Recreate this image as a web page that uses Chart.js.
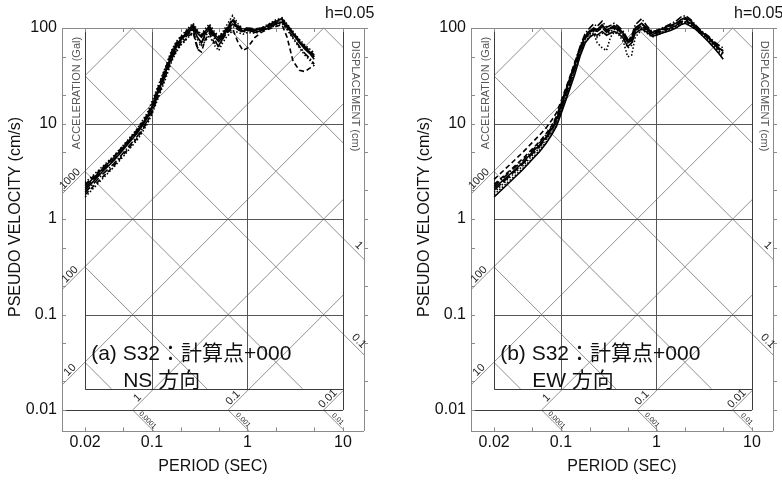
<!DOCTYPE html>
<html>
<head>
<meta charset="utf-8">
<script src="https://cdn.jsdelivr.net/npm/chart.js@4"></script>
<style>
  body { margin: 0; background: #fff; width: 782px; height: 483px; overflow: hidden; position: relative; }
  canvas { position: absolute; top: 0; }
</style>
</head>
<body>
<canvas id="ns" width="391" height="483" style="left:0"></canvas>
<canvas id="ew" width="373" height="483" style="left:409px"></canvas>
<script>
const periods = [0.02, 0.03, 0.04, 0.05, 0.06, 0.07, 0.08, 0.09, 0.1, 0.12, 0.14, 0.16, 0.18,
  0.2, 0.22, 0.24, 0.27, 0.3, 0.33, 0.36, 0.4, 0.45, 0.5, 0.55, 0.6, 0.7, 0.8, 0.9,
  1.0, 1.2, 1.4, 1.6, 1.8, 2.0, 2.3, 2.6, 3.0, 3.5, 4.0, 4.5, 5.0];

// pseudo velocity (cm/s), NS direction
const nsSeries = [
  [2.2, 3.3, 4.4, 5.6, 7.0, 8.4, 10, 12, 15, 24, 36, 52, 66, 76, 84, 95, 108, 88, 80, 92, 105, 85, 78, 84, 96, 120, 100, 92, 98, 95, 98, 104, 110, 118, 125, 105, 88, 72, 62, 56, 50],
  [1.8, 2.7, 3.6, 4.7, 5.8, 7.0, 8.6, 10.5, 13, 21, 32, 46, 58, 68, 74, 82, 90, 60, 56, 75, 88, 70, 66, 76, 88, 98, 70, 58, 62, 80, 90, 96, 100, 104, 108, 80, 45, 36, 35, 38, 41],
  [2.4, 3.5, 4.6, 5.9, 7.3, 8.8, 10.8, 13, 17, 27, 40, 58, 72, 82, 90, 100, 112, 95, 85, 98, 110, 92, 82, 90, 105, 135, 110, 98, 100, 96, 100, 108, 115, 122, 128, 110, 92, 76, 66, 60, 55],
  [1.9, 2.9, 3.8, 4.9, 6.1, 7.3, 8.9, 10.8, 13.5, 22, 33, 47, 60, 70, 78, 86, 98, 62, 70, 82, 92, 78, 62, 78, 88, 104, 96, 90, 94, 92, 96, 100, 106, 112, 118, 98, 80, 64, 54, 48, 42],
  [2.0, 3.1, 4.1, 5.3, 6.6, 7.9, 9.6, 11.5, 14.5, 23, 35, 50, 63, 74, 82, 90, 102, 80, 70, 86, 98, 82, 72, 80, 92, 110, 100, 92, 96, 90, 94, 98, 104, 110, 115, 102, 86, 70, 60, 54, 47],
  [2.1, 3.2, 4.2, 5.4, 6.8, 8.1, 9.8, 11.8, 15, 25, 37, 54, 68, 78, 85, 92, 96, 90, 82, 88, 94, 84, 76, 82, 94, 112, 104, 96, 100, 98, 100, 106, 112, 120, 124, 108, 90, 74, 64, 58, 52],
  [1.7, 2.6, 3.5, 4.5, 5.6, 6.7, 8.2, 10, 12.5, 20, 30, 44, 56, 66, 72, 80, 88, 76, 66, 72, 84, 66, 58, 70, 80, 94, 90, 86, 90, 88, 92, 98, 102, 108, 112, 96, 78, 62, 52, 46, 40],
  [2.3, 3.4, 4.5, 5.8, 7.1, 8.6, 10.4, 12.5, 16, 26, 39, 56, 70, 80, 88, 98, 105, 92, 84, 94, 100, 88, 80, 88, 98, 125, 106, 94, 98, 94, 98, 102, 108, 114, 120, 104, 88, 72, 62, 56, 50]
];

// pseudo velocity (cm/s), EW direction
const ewSeries = [
  [2.1, 3.0, 3.9, 5.0, 6.0, 7.2, 8.8, 11, 15, 26, 41, 62, 82, 92, 100, 96, 108, 95, 100, 106, 100, 88, 72, 78, 100, 112, 100, 90, 92, 100, 106, 112, 122, 128, 118, 104, 90, 80, 70, 62, 57],
  [2.6, 3.8, 5.0, 6.3, 7.6, 9.0, 10.8, 13, 17, 28, 44, 64, 84, 94, 98, 94, 104, 92, 96, 102, 96, 84, 70, 74, 94, 104, 94, 86, 88, 96, 100, 106, 114, 118, 110, 100, 88, 78, 68, 60, 55],
  [1.8, 2.6, 3.4, 4.3, 5.3, 6.4, 7.8, 9.6, 13, 22, 35, 54, 72, 82, 88, 70, 62, 58, 80, 90, 86, 72, 50, 52, 80, 96, 88, 80, 84, 90, 96, 104, 110, 114, 104, 96, 84, 74, 64, 56, 50],
  [2.2, 3.2, 4.1, 5.2, 6.3, 7.6, 9.2, 11.5, 15.5, 27, 43, 66, 88, 100, 110, 104, 118, 102, 106, 112, 104, 92, 76, 82, 108, 125, 104, 92, 94, 102, 110, 118, 130, 135, 122, 106, 92, 82, 72, 66, 62],
  [1.7, 2.5, 3.3, 4.2, 5.1, 6.2, 7.6, 9.4, 12.5, 21, 33, 52, 70, 80, 86, 84, 92, 84, 88, 92, 88, 78, 64, 70, 88, 98, 90, 82, 84, 90, 94, 100, 108, 112, 104, 96, 84, 72, 62, 54, 47],
  [2.0, 2.9, 3.8, 4.8, 5.8, 7.0, 8.5, 10.5, 14, 24, 38, 58, 78, 88, 94, 92, 100, 90, 95, 100, 95, 85, 70, 75, 95, 106, 96, 86, 88, 94, 100, 106, 116, 120, 112, 100, 88, 78, 68, 60, 54],
  [1.9, 2.8, 3.6, 4.6, 5.6, 6.8, 8.2, 10.2, 13.5, 23, 37, 56, 76, 86, 92, 80, 88, 86, 92, 98, 92, 80, 62, 66, 90, 100, 92, 84, 86, 92, 98, 104, 112, 116, 108, 98, 86, 76, 66, 58, 52],
  [2.3, 3.3, 4.3, 5.4, 6.5, 7.8, 9.5, 12, 16, 27, 42, 62, 80, 90, 96, 96, 104, 94, 98, 104, 98, 88, 74, 80, 100, 110, 98, 88, 90, 98, 104, 110, 120, 124, 114, 102, 90, 80, 70, 62, 58]
];

const dashStyles = [[], [5, 3], [1.5, 2], [7, 2, 1.5, 2], [], [9, 3], [1.5, 2], [5, 3]];

const xTickLabels = ['0.02', '0.1', '1', '10'];
const yTickLabels = ['0.01', '0.1', '1', '10', '100'];
const xTicks = [0.02, 0.05, 0.1, 0.2, 0.5, 1, 2, 5, 10];
const yTicks = [0.01, 0.02, 0.05, 0.1, 0.2, 0.5, 1, 2, 5, 10, 20, 50, 100];
const accelLines = [0.01, 0.1, 1, 10, 100, 1000, 10000];
const dispLines = [0.0001, 0.001, 0.01, 0.1, 1, 10, 100];
const accelLeftLabels = ['1000', '100', '10'];
const accelBottomLabels = ['1', '0.1', '0.01'];
const dispRightLabels = ['1', '0.1'];
const dispBottomLabels = ['0.01', '0.001', '0.0001'];

// frame of the tripartite grid (axis units)
const T_MIN = 0.01145, T_MAX = 16.6, V_MIN = 0.00603, V_MAX = 100;
const T_IN0 = 0.02, T_IN1 = 10, V_IN0 = 0.0166, V_LINE = 0.01;
const TWO_PI = 2 * Math.PI;
const LATIN = '"Liberation Sans", Arial, "Noto Sans CJK JP", sans-serif';

function accelSeg(a, t0, t1, v0, v1) {
  const ta = Math.max(t0, v0 * TWO_PI / a), tb = Math.min(t1, v1 * TWO_PI / a);
  return ta < tb ? [[ta, a * ta / TWO_PI], [tb, a * tb / TWO_PI]] : null;
}
function dispSeg(d, t0, t1, v0, v1) {
  const ta = Math.max(t0, TWO_PI * d / v1), tb = Math.min(t1, TWO_PI * d / v0);
  return ta < tb ? [[ta, TWO_PI * d / ta], [tb, TWO_PI * d / tb]] : null;
}

const tripartite = {
  id: 'tripartite',
  beforeDatasetsDraw(chart) {
    const ctx = chart.ctx, xs = chart.scales.x, ys = chart.scales.y;
    const X = v => xs.getPixelForValue(v), Y = v => ys.getPixelForValue(v);
    const R = p => Math.round(p) + 0.5;
    const seg = (s) => {
      if (!s) return;
      ctx.beginPath();
      ctx.moveTo(X(s[0][0]), Y(s[0][1]));
      ctx.lineTo(X(s[1][0]), Y(s[1][1]));
      ctx.stroke();
    };
    const hline = (v, t0, t1) => { ctx.beginPath(); ctx.moveTo(X(t0), R(Y(v))); ctx.lineTo(X(t1), R(Y(v))); ctx.stroke(); };
    const vline = (t, v0, v1) => { ctx.beginPath(); ctx.moveTo(R(X(t)), Y(v0)); ctx.lineTo(R(X(t)), Y(v1)); ctx.stroke(); };

    ctx.save();
    ctx.lineWidth = 1;
    // diagonal acceleration / displacement lines
    ctx.strokeStyle = '#8f8f8f';
    accelLines.forEach(a => {
      const t0 = accelLeftLabels.includes(String(a)) ? T_MIN : T_IN0;
      seg(accelSeg(a, t0, T_IN1, V_LINE, V_MAX));
    });
    dispLines.forEach(d => {
      seg(dispSeg(d, T_IN0, T_IN1, V_IN0, V_MAX));
      if (dispRightLabels.includes(String(d))) seg(dispSeg(d, T_IN1, T_MAX, V_MIN, V_MAX));
      if (dispBottomLabels.includes(String(d))) seg(dispSeg(d, T_IN0, T_IN1, V_MIN, V_LINE));
    });
    // velocity / period grid
    ctx.strokeStyle = '#555';
    [0.1, 1, 10].forEach(v => hline(v, T_IN0, T_IN1));
    [0.1, 1].forEach(t => vline(t, V_IN0, V_MAX));
    ctx.strokeStyle = '#3c3c3c';
    vline(T_IN0, V_IN0, V_MAX);
    vline(T_IN1, V_LINE, V_MAX);
    hline(V_IN0, T_IN0, T_IN1);
    hline(V_LINE, T_MIN, T_IN1);
    // outer axes box with ticks
    ctx.strokeStyle = '#8a8a8a';
    hline(V_MAX, T_MIN, T_MAX);
    hline(V_MIN, T_MIN, T_MAX);
    vline(T_MIN, V_MIN, V_MAX);
    vline(T_MAX, V_MIN, V_MAX);
    xTicks.forEach(t => {
      vline(t, V_MIN, V_MIN * 1.09);
      ctx.beginPath(); ctx.moveTo(R(X(t)), Y(V_MAX)); ctx.lineTo(R(X(t)), Y(V_MAX) + 4); ctx.stroke();
    });
    yTicks.forEach(v => {
      ctx.beginPath(); ctx.moveTo(X(T_MIN), R(Y(v))); ctx.lineTo(X(T_MIN) + 4, R(Y(v))); ctx.stroke();
      ctx.beginPath(); ctx.moveTo(X(T_MAX), R(Y(v))); ctx.lineTo(X(T_MAX) + 4, R(Y(v))); ctx.stroke();
    });
    ctx.restore();
  },
  afterDatasetsDraw(chart, args, opts) {
    const ctx = chart.ctx, xs = chart.scales.x, ys = chart.scales.y, area = chart.chartArea;
    const X = v => xs.getPixelForValue(v), Y = v => ys.getPixelForValue(v);
    const put = (txt, x, y, ang, font, color, align, base) => {
      ctx.save();
      ctx.translate(x, y);
      ctx.rotate(ang);
      ctx.font = font;
      ctx.fillStyle = color;
      ctx.textAlign = align;
      ctx.textBaseline = base;
      ctx.fillText(txt, 0, 0);
      ctx.restore();
    };
    const label = (txt, s, frac, off, ang, size) => {
      if (!s) return;
      const x0 = X(s[0][0]), y0 = Y(s[0][1]), x1 = X(s[1][0]), y1 = Y(s[1][1]);
      const px = x0 + (x1 - x0) * frac, py = y0 + (y1 - y0) * frac;
      ctx.save();
      ctx.translate(px, py);
      ctx.rotate(ang);
      ctx.font = size + 'px ' + LATIN;
      ctx.fillStyle = '#222';
      ctx.textAlign = 'center';
      ctx.textBaseline = 'alphabetic';
      ctx.fillText(txt, 0, -off);
      ctx.restore();
    };

    // diagonal scale labels
    accelLeftLabels.forEach(t => label(t, accelSeg(+t, T_MIN, T_IN0, V_LINE, V_MAX), 0.5, 2, -Math.PI / 4, 11));
    accelBottomLabels.forEach(t => label(t, accelSeg(+t, T_IN0, T_IN1, V_LINE, V_IN0), 0.4, 2, -Math.PI / 4, 11));
    dispRightLabels.forEach(t => label(t, dispSeg(+t, T_IN1, T_MAX, V_MIN, V_MAX), 0.55, 3, Math.PI / 4, 11));
    dispBottomLabels.forEach(t => label(t, dispSeg(+t, T_IN0, T_IN1, V_MIN, V_LINE), 0.6, 1.5, Math.PI / 4, 7));

    put('ACCELERATION (Gal)', (X(T_MIN) + X(T_IN0)) / 2 + 3, 93, -Math.PI / 2, '11px ' + LATIN, '#555', 'center', 'middle');
    put('DISPLACEMENT (cm)', (X(T_IN1) + X(T_MAX)) / 2 + 2, 96, Math.PI / 2, '11px ' + LATIN, '#555', 'center', 'middle');

    // tick labels
    xTickLabels.forEach(t => put(t, X(+t), area.bottom + 4, 0, '16px ' + LATIN, '#111', 'center', 'top'));
    yTickLabels.forEach(t => put(t, area.left - 5, Y(+t), 0, '16px ' + LATIN, '#111', 'right', 'middle'));

    // axis titles
    put('PERIOD (SEC)', (area.left + area.right) / 2, 467, 0, '16px ' + LATIN, '#111', 'center', 'middle');
    put('PSEUDO VELOCITY (cm/s)', 16, 217, -Math.PI / 2, '16px ' + LATIN, '#111', 'center', 'middle');
    put('h=0.05', area.right - 39, 18, 0, '16px ' + LATIN, '#111', 'left', 'alphabetic');

    // case annotation
    put(opts.line1, X(T_IN0) + 6, 360, 0, '21px ' + LATIN, '#111', 'left', 'alphabetic');
    put(opts.line2, X(T_IN0) + 38, 387, 0, '21px ' + LATIN, '#111', 'left', 'alphabetic');
  }
};

function makeDatasets(series) {
  return series.map((vals, i) => ({
    data: periods.map((p, j) => ({ x: p, y: vals[j] })),
    borderColor: '#000',
    borderWidth: 1.6,
    borderDash: dashStyles[i],
    pointRadius: 0,
    tension: 0,
    fill: false,
    clip: false
  }));
}

function drawPanel(canvasId, series, rightPad, line1, line2) {
  const ctx = document.getElementById(canvasId).getContext('2d');
  return new Chart(ctx, {
    type: 'line',
    data: { datasets: makeDatasets(series) },
    options: {
      responsive: false,
      animation: false,
      events: [],
      layout: { padding: { left: 62, right: rightPad, top: 28, bottom: 52 } },
      plugins: {
        legend: { display: false },
        tooltip: { enabled: false },
        tripartite: { line1: line1, line2: line2 }
      },
      scales: {
        x: { type: 'logarithmic', min: T_MIN, max: T_MAX, display: false },
        y: { type: 'logarithmic', min: V_MIN, max: V_MAX, display: false }
      }
    },
    plugins: [tripartite]
  });
}

drawPanel('ns', nsSeries, 27, '(a) S32：計算点+000', 'NS 方向');
drawPanel('ew', ewSeries, 9, '(b) S32：計算点+000', 'EW 方向');
</script>
</body>
</html>
